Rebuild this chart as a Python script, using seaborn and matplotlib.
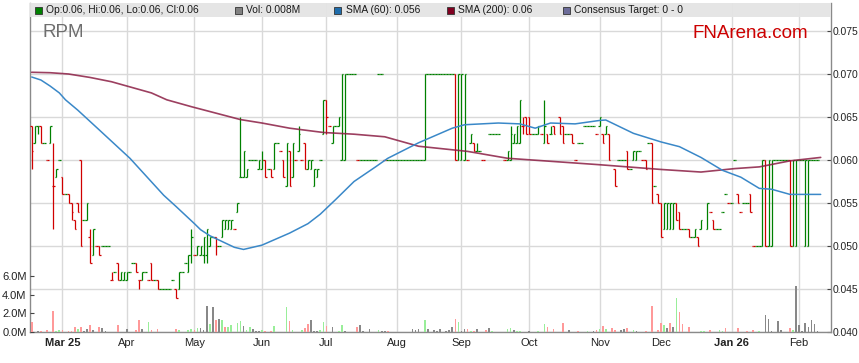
import numpy as np
import pandas as pd
import matplotlib
matplotlib.use("Agg")
import matplotlib.pyplot as plt
import seaborn as sns
from matplotlib.patches import Rectangle

N = float("nan")
# ---- daily OHLC (weekday index from 17 Feb 2025), price in 1/1000 AUD ----
open_ = [64,62,64,64,62,60,62,57,58,60, 58,56,56,55,53,55,60,53,53,51,
         49,50,50,50,50,50,46,47,48,46, 46,46,47,48,48,46,46,47,46,48,
         46,46,45,45,45,45,46,45,45,47, 48,47,49,49,49,49,49,49,50,51,
         51,50,51,52,52,52,52,54,58,58, 58,60,60,60,59,59,60,59,59,59,
         62,61,60,57,61,58,60,61,60,62, 59,59,57,58,60,63,67,64,62,64,
         64,60,60,70,70,70,60,60,60,60, 60,60,60,70,70,60,60,60,60,60,
         60,60,60,60,60,60,60,60,60,70, 70,70,70,70,70,70,70,70,70,60,
         60,60,60,62,62,61,61,60,N,63, 63,63,63,N,60,60,60,62,62,62,
         64,65,65,63,63,63,63,62,63,63, 64,N,65,64,63,63,63,60,62,62,
         64,64,64,64,63,64,63,63,63,N, 59,60,60,60,61,59,60,60,61,60,
         60,62,62,57,56,55,52,52,52,52, 55,54,52,52,52,51,51,51,52,N,
         52,54,53,52,52,54,56,55,55,60, 56,54,55,55,56,50,50,50,50,60,
         50,50,60,60,60,60,60,60,50,50, 60,60,50,50,60,60,60]
high = [64,64,64,64,62,60,64,62,59,60, 58,56,56,55,53,55,60,53,55,52,
        52,50,50,50,50,50,47,47,48,47, 47,47,47,48,48,46,47,47,46,48,
        46,46,45,45,45,45,46,45,47,47, 48,49,52,49,50,50,51,52,51,51,
        51,50,53,53,53,53,52,55,65,61, 59,60,60,60,60,61,60,59,59,62,
        62,61,60,62,61,62,60,64,60,62, 60,60,59,59,60,67,67,64,64,64,
        65,70,70,70,70,70,60,60,60,60, 60,60,60,70,70,60,60,60,60,60,
        60,60,60,60,60,60,60,60,70,70, 70,70,70,70,70,70,70,70,70,70,
        70,70,60,63,62,62,61,60,N,63, 63,63,63,N,60,61,64,63,64,67,
        65,65,65,63,63,64,63,67,63,64, 64,N,65,64,63,63,63,60,62,62,
        64,64,64,64,63,65,63,64,63,N, 59,60,60,60,61,59,61,61,61,60,
        60,62,62,57,56,55,55,55,55,55, 55,54,52,52,52,51,52,51,53,N,
        55,54,53,52,52,54,56,55,55,60, 56,54,55,55,56,50,50,50,60,60,
        60,60,60,60,60,60,60,60,60,60, 60,60,60,60,60,60,60]
low = [59,62,63,62,62,60,62,52,58,60, 56,56,55,53,52,54,50,53,53,48,
       49,50,49,50,50,50,46,47,46,46, 46,46,47,48,47,45,46,47,46,46,
       46,45,45,45,45,45,46,44,45,47, 48,47,48,49,49,49,48,48,50,51,
       49,50,51,52,52,52,52,54,58,58, 58,60,60,60,59,59,58,59,58,59,
       62,61,58,57,57,58,60,61,60,59, 59,59,57,58,60,63,63,64,62,64,
       64,60,60,70,70,70,60,60,60,60, 60,60,60,70,70,60,60,60,60,60,
       60,60,60,60,60,60,60,60,60,70, 70,70,70,70,70,70,70,70,60,60,
       60,60,60,62,61,61,61,60,N,63, 63,63,63,N,60,60,60,62,62,62,
       63,63,63,63,63,63,63,62,62,63, 63,N,63,62,63,63,62,60,62,62,
       64,64,64,64,63,64,62,63,60,N, 57,60,60,60,59,59,60,60,61,60,
       59,62,55,57,55,51,52,52,52,52, 53,52,52,52,51,51,51,50,52,N,
       52,54,52,52,52,54,56,55,55,60, 55,54,55,55,54,50,50,50,50,50,
       50,50,60,60,60,60,60,50,50,50, 60,60,50,50,60,60,60]
close = [61,64,64,62,62,60,64,57,59,60, 56,56,55,54,52,54,50,53,55,48,
         52,50,49,50,50,50,46,47,46,47, 47,47,47,48,47,46,47,47,46,46,
         46,45,45,45,45,45,46,44,47,47, 48,49,51,49,50,50,51,52,51,51,
         50,50,53,53,53,53,52,55,58,61, 59,60,60,60,60,60,58,59,58,62,
         62,61,58,62,57,62,60,63,60,59, 60,60,59,59,60,67,65,64,64,64,
         65,70,70,70,70,70,60,60,60,60, 60,60,60,70,70,60,60,60,60,60,
         60,60,60,60,60,60,60,60,70,70, 70,70,70,70,70,70,70,70,60,70,
         70,70,60,63,61,61,61,60,N,63, 63,63,63,N,60,61,63,63,64,67,
         64,63,63,63,63,64,63,64,62,63, 63,N,63,62,63,63,62,60,62,62,
         64,64,64,64,63,65,62,64,60,N, 57,60,60,60,59,59,61,61,61,60,
         59,62,55,57,55,51,55,55,55,55, 53,52,52,52,51,51,52,50,53,N,
         55,54,52,52,52,54,56,55,55,60, 55,54,55,55,54,50,50,50,60,50,
         60,60,60,60,60,60,60,50,60,60, 60,60,60,60,60,60,60]

# ---- volume (millions of shares); direction u = up, d = down, n = unchanged ----
vol_day = [0,2,3,5,7,8,9,10,12,13, 14,15,16,17,18,19,20,22,23,24, 28,31,34,35,36,38,39,41,47,48,
           51,52,53,54,55,56,57,58,59,60, 61,62,63,64,65,67,68,69,70,71, 72,73,74,75,76,78,79,83,84,85,
           88,89,90,91,92,93,94,95,96,98, 100,101,102,106,107,108,110,113,114,115, 116,124,125,126,128,129,
           131,132,133,135,136,137,138,139,140,141, 142,143,144,145,148,149,150,155,156,157, 158,159,162,165,
           167,168,170,173,175,178,181,183,184,185, 186,187,189,190,192,193,194,196,197,200, 202,204,205,206,
           207,208,209,210,211,212,214,218,219,221, 224,225,226,230,233,235,237,239,240,241, 243,244,247,248,
           249,250,251,252,253,254,255,256]
vol_m = [1.07,0.14,0.10,0.20,2.25,0.10,0.20,0.20,0.10,0.10, 0.55,0.30,0.55,0.10,0.30,0.75,0.25,0.55,0.45,0.10,
         0.75,0.30,0.20,1.30,0.30,1.10,0.25,0.30,0.30,0.20,
         0.20,0.30,0.20,0.45,0.45,0.20,2.80,0.85,2.70,1.30, 1.40,1.30,0.55,0.55,0.75,0.95,1.20,0.65,0.20,0.55,
         0.30,0.15,0.10,0.20,0.10,0.10,0.65,2.70,1.20,0.20,
         0.20,0.45,0.85,1.30,0.10,0.10,0.20,1.10,0.65,0.55, 0.10,0.75,0.10,0.55,0.75,0.10,0.30,0.20,0.15,0.10,
         0.10,0.30,0.20,0.30,1.30,0.30,
         0.20,0.15,0.30,0.15,0.20,0.55,1.40,1.10,0.10,0.30, 0.30,0.10,0.10,0.30,0.20,0.45,0.10,0.30,0.45,0.20,
         0.10,0.10,0.08,0.08,
         0.85,0.55,0.30,0.95,0.20,0.10,0.10,0.10,0.20,0.30, 0.65,0.30,0.45,0.20,0.20,0.30,0.45,0.20,0.10,0.10,
         2.80,0.20,0.95,0.75,
         0.45,0.95,0.55,3.65,2.15,0.85,0.55,0.10,0.10,0.20, 0.20,0.10,0.45,0.45,0.10,0.20,0.10,1.80,1.40,0.10,
         1.20,0.20,0.45,0.20,
         4.90,0.75,0.10,0.95,0.55,1.30,0.85,0.10]
vol_dir = ("dnddduuddd" "dudnndndnn" "dnddnudddu"
           "uudunnnund" "nuduuuunuu" "nnnudduudu"
           "uddnnnuudn" "uundnnnunn" "dnnnun"
           "nnnnnndunn" "dudndnuuun" "uunu"
           "udddndundu" "duddnndund" "dddu"
           "ndnuddduud" "uuddddunnn" "nndu"
           "nnnnnnnn")

# ---- moving averages (weekday index, price in 1/1000) ----
sma60_day = [0,3,6,9,11,15,22,32,43,47,53,55,58,66,69,75,84,90,94,99,105,112,116,126,137,141,152,
             159,164,169,177,185,187,196,205,211,218,225,231,237,241,247,257]
sma60_val = [69.65,69.3,68.6,67.8,67.0,65.8,63.5,60.2,55.9,54.6,52.6,51.9,51.2,49.85,49.6,50.1,51.5,52.6,
             53.7,55.4,57.5,59.2,60.2,62.0,63.7,64.1,64.3,64.2,63.7,64.3,64.2,64.6,64.65,63.1,62.1,61.55,
             60.3,58.8,58.0,56.7,56.6,56.0,56.0]
sma200_day = [0,6,12,19,26,32,39,44,52,68,75,84,95,105,115,126,142,155,185,205,218,229,237,247,257]
sma200_val = [70.2,70.15,70.0,69.6,69.1,68.5,67.8,67.0,66.2,64.7,64.3,63.7,63.2,63.0,62.7,61.6,61.0,
              60.2,59.45,58.9,58.6,59.0,59.2,59.9,60.3]

month_labels = ["Mar 25", "Apr", "May", "Jun", "Jul", "Aug", "Sep", "Oct", "Nov", "Dec", "Jan 26", "Feb"]
price_ticks = [0.040, 0.045, 0.050, 0.055, 0.060, 0.065, 0.070, 0.075]
vol_ticks = [0, 2, 4, 6]

assert len(open_) == len(high) == len(low) == len(close)
assert len(vol_day) == len(vol_m) == len(vol_dir)

# ---------------------------------------------------------------------------
sns.set_style("white")
plt.rcParams["font.family"] = ["Liberation Sans", "DejaVu Sans"]

W, H = 859, 363
L, R, T, B = 30, 831, 3, 332
fig = plt.figure(figsize=(W / 100, H / 100), dpi=100)
ax = fig.add_axes([L / W, (H - B) / H, (R - L) / W, (B - T) / H])
axv = ax.twinx()

o = np.array(open_, float) / 1000
h = np.array(high, float) / 1000
l = np.array(low, float) / 1000
c = np.array(close, float) / 1000
n = len(c)
idx = np.arange(n)
prev = pd.Series(c).ffill().shift().to_numpy()
up = (c > o) | ((c == o) & ~(c < prev))
valid = ~np.isnan(c)

GREEN, RED = "#008000", "#d00000"
for mask, col in [(up & valid, GREEN), (~up & valid, RED)]:
    xi = idx[mask]
    ax.vlines(xi, l[mask], h[mask], color=col, lw=0.9, zorder=3)
    ax.hlines(o[mask], xi - 0.5, xi, color=col, lw=0.9, zorder=3)
    ax.hlines(c[mask], xi, xi + 0.5, color=col, lw=0.9, zorder=3)

sns.lineplot(x=sma200_day, y=np.array(sma200_val) / 1000, ax=ax, color="#8b1e44",
             lw=1.2, alpha=0.85, legend=False, zorder=4)
sns.lineplot(x=sma60_day, y=np.array(sma60_val) / 1000, ax=ax, color="#3a88c8",
             lw=1.1, legend=False, zorder=5)

vcol = {"u": "#99ee99", "d": "#ff9999", "n": "#888888"}
axv.bar(vol_day, vol_m, width=0.55, color=[vcol[s] for s in vol_dir], linewidth=0)

# axes limits / ticks
ax.set_xlim((L - 31.7) / 3.07, (R - 31.7) / 3.07)
ax.set_ylim(0.040, 0.040 + (B - T) / 8.6 / 1000)
axv.set_ylim(0, (B - T) / 9.33)

dates = pd.bdate_range("2025-02-17", periods=n)
per = dates.to_period("M")
first = [i for i in range(1, n) if per[i] != per[i - 1]]
ax.set_xticks(first)
ax.set_xticklabels(month_labels[:len(first)])
for t in ax.get_xticklabels():
    if " " in t.get_text():
        t.set_fontweight("bold")

ax.yaxis.tick_right()
ax.set_yticks(price_ticks)
ax.set_yticklabels([f"{p:.3f}" for p in price_ticks])
axv.yaxis.tick_left()
axv.set_yticks(vol_ticks)
axv.set_yticklabels([f"{v:.1f}M" for v in vol_ticks])

ax.tick_params(axis="x", length=0, pad=4, labelsize=8, labelcolor="#222222")
ax.tick_params(axis="y", direction="in", length=3, pad=1.2, labelsize=7.4,
               color="#444444", labelcolor="#222222", left=False, right=True,
               labelleft=False, labelright=True)
axv.tick_params(axis="y", direction="in", length=3, pad=2.5, labelsize=8,
                color="#444444", labelcolor="#222222", left=True, right=False,
                labelleft=True, labelright=False)
ax.set_xlabel("")
ax.set_ylabel("")
axv.set_ylabel("")

ax.grid(True, color="#d9d9d9", lw=1.0)
ax.set_axisbelow(True)
for s in ["left", "right", "bottom"]:
    ax.spines[s].set_color("#8a8a8a")
    ax.spines[s].set_linewidth(1.0)
ax.spines["top"].set_visible(False)
for s in axv.spines.values():
    s.set_visible(False)

# header bar with legend entries
fig.patches.append(Rectangle((L / W, 1 - 17 / H), (R - L) / W, 14 / H, transform=fig.transFigure,
                             facecolor="#e4e4e4", edgecolor="none", alpha=0.93, zorder=5))
legend_items = [(35, "#008000", "Op:0.06, Hi:0.06, Lo:0.06, Cl:0.06"),
                (235, "#808080", "Vol: 0.008M"),
                (334, "#1f6cab", "SMA (60): 0.056"),
                (447, "#800020", "SMA (200): 0.06"),
                (563, "#6c6c99", "Consensus Target: 0 - 0")]
for px, col, txt in legend_items:
    fig.patches.append(Rectangle((px / W, 1 - 13.5 / H), 7 / W, 7 / H, transform=fig.transFigure,
                                 facecolor=col, edgecolor="#333333", lw=0.6, zorder=6))
    fig.text((px + 11.5) / W, 1 - 10 / H, txt, fontsize=7.4, color="#1a1a1a",
             va="center", ha="left", zorder=7)

fig.text(42 / W, 1 - 32.5 / H, "RPM", fontsize=13.5, color="#6e6e6e", va="center", ha="left")
fig.text(692 / W, 1 - 33 / H, "FNArena.com", fontsize=13.5, color="#cc0000", va="center", ha="left")

fig.savefig("out.png", dpi=100)
